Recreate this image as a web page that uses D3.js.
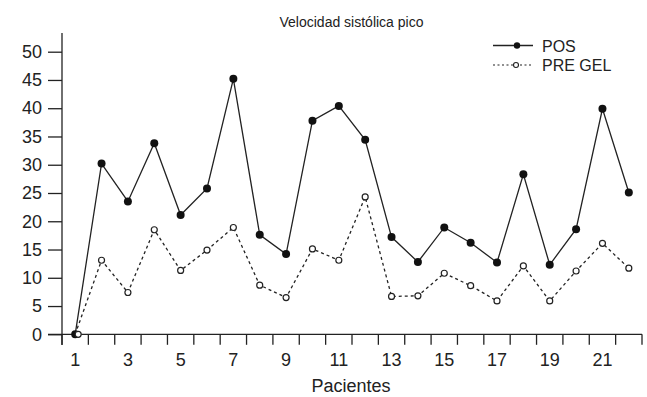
<!DOCTYPE html>
<html>
<head>
<meta charset="utf-8">
<script src="https://cdn.jsdelivr.net/npm/d3@7/dist/d3.min.js"></script>
<style>
  body { margin: 0; background: #fff; }
  text { font-family: "Liberation Sans", Arial, sans-serif; fill: #222; }
</style>
</head>
<body>
<div id="chart"></div>
<script>
// values
const patients = d3.range(1, 23);
const pos = [0, 30.2, 23.5, 33.8, 21.1, 25.8, 45.2, 17.6, 14.2, 37.8, 40.4,
  34.4, 17.2, 12.8, 18.9, 16.2, 12.7, 28.3, 12.3, 18.6, 39.9, 25.1];
const preGel = [0, 13.1, 7.4, 18.5, 11.3, 14.9, 18.9, 8.7, 6.5, 15.1, 13.1,
  24.3, 6.7, 6.8, 10.8, 8.6, 5.9, 12.1, 5.9, 11.2, 16.1, 11.7];
const yTicks = [0, 5, 10, 15, 20, 25, 30, 35, 40, 45, 50];
const xLabels = [1, 3, 5, 7, 9, 11, 13, 15, 17, 19, 21];

const width = 647, height = 397;
const margin = { top: 33, right: 5, bottom: 63, left: 62 };
const ink = "#222";

const svg = d3.select("#chart").append("svg")
  .attr("width", width)
  .attr("height", height);

let x = d3.scaleBand()
  .domain(patients)
  .range([margin.left, 642])
  .padding(0);

let y = d3.scaleLinear()
  .domain([0, 50])
  .range([334.3, 51.7]);

const cx = (d) => x(d) + x.bandwidth() / 2;

// title
svg.append("text")
  .attr("x", 351.5).attr("y", 27)
  .attr("text-anchor", "middle")
  .style("font-size", "14px")
  .text("Velocidad sistólica pico");

// y axis
const yAxis = svg.append("g")
  .attr("transform", `translate(${margin.left},0)`)
  .call(d3.axisLeft(y).tickValues(yTicks).tickSize(14).tickPadding(6).tickSizeOuter(0));
yAxis.select(".domain").remove();
yAxis.append("line")
  .attr("x1", 0).attr("x2", 0)
  .attr("y1", margin.top).attr("y2", 345)
  .attr("stroke", ink).attr("stroke-width", 1.3);
yAxis.selectAll(".tick line").attr("stroke", ink).attr("stroke-width", 1.3);
yAxis.selectAll(".tick text").style("font-size", "18px").attr("fill", ink);

// x axis
const xAxis = svg.append("g").attr("transform", `translate(0,${y(0)})`);
xAxis.append("line")
  .attr("x1", 48).attr("x2", 642)
  .attr("stroke", ink).attr("stroke-width", 1.3);
const edges = patients.map((d) => x(d)).concat([x(22) + x.bandwidth()]);
xAxis.selectAll("line.tk").data(edges).enter().append("line")
  .attr("class", "tk")
  .attr("x1", (d) => d).attr("x2", (d) => d)
  .attr("y1", 0).attr("y2", 10.5)
  .attr("stroke", ink).attr("stroke-width", 1.3);
xAxis.selectAll("text.lb").data(xLabels).enter().append("text")
  .attr("class", "lb")
  .attr("x", (d) => cx(d))
  .attr("y", 32)
  .attr("text-anchor", "middle")
  .style("font-size", "18px")
  .text((d) => d);

svg.append("text")
  .attr("x", 351).attr("y", 392)
  .attr("text-anchor", "middle")
  .style("font-size", "18px")
  .text("Pacientes");

// lines
const line = d3.line().x((d, i) => cx(patients[i])).y((d) => y(d));

svg.append("path").datum(preGel)
  .attr("d", line)
  .attr("fill", "none")
  .attr("stroke", ink).attr("stroke-width", 1.3)
  .attr("stroke-dasharray", "3,3");

svg.append("path").datum(pos)
  .attr("d", line)
  .attr("fill", "none")
  .attr("stroke", ink).attr("stroke-width", 1.3);

svg.append("g").selectAll("circle").data(pos).enter().append("circle")
  .attr("cx", (d, i) => cx(patients[i]))
  .attr("cy", (d) => y(d))
  .attr("r", 4)
  .attr("fill", "#111");

svg.append("g").selectAll("circle").data(preGel).enter().append("circle")
  .attr("cx", (d, i) => cx(patients[i]) + (i === 0 ? 3 : 0))
  .attr("cy", (d) => y(d))
  .attr("r", 3)
  .attr("fill", "#fff")
  .attr("stroke", ink).attr("stroke-width", 1.2);

// legend
const legend = svg.append("g");
legend.append("line")
  .attr("x1", 493).attr("x2", 533).attr("y1", 45.5).attr("y2", 45.5)
  .attr("stroke", ink).attr("stroke-width", 1.3);
legend.append("circle").attr("cx", 517).attr("cy", 45.5).attr("r", 3.2).attr("fill", "#111");
legend.append("text").attr("x", 542).attr("y", 51.5)
  .style("font-size", "16px").text("POS");

legend.append("line")
  .attr("x1", 493).attr("x2", 533).attr("y1", 65).attr("y2", 65)
  .attr("stroke", ink).attr("stroke-width", 1.2)
  .attr("stroke-dasharray", "2,2.5");
legend.append("circle").attr("cx", 516).attr("cy", 65).attr("r", 2.5)
  .attr("fill", "#fff").attr("stroke", ink).attr("stroke-width", 1.1);
legend.append("text").attr("x", 542).attr("y", 71)
  .style("font-size", "16px").text("PRE GEL");
</script>
</body>
</html>
